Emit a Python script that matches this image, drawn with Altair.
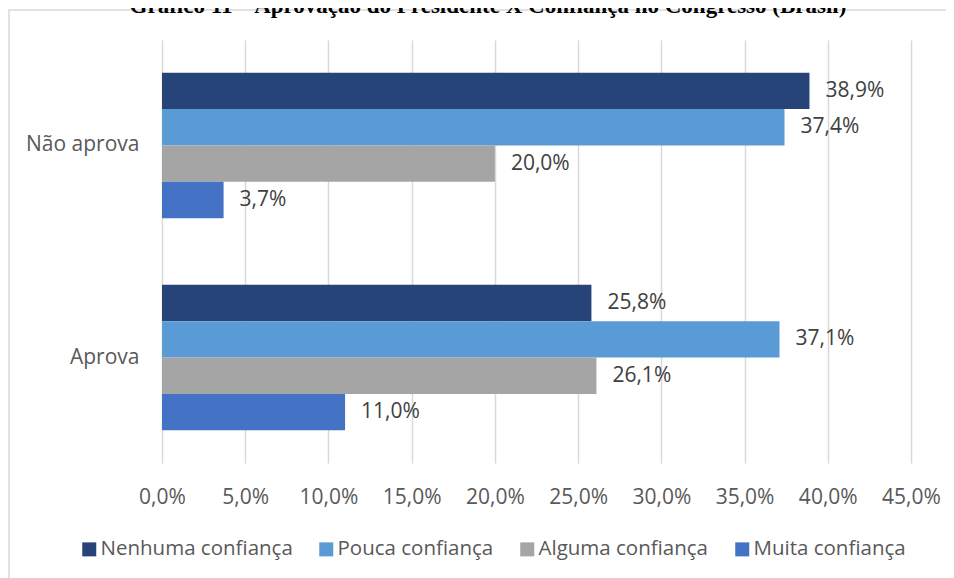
import altair as alt
import pandas as pd

grupos = ["Não aprova", "Aprova"]
series = ["Nenhuma confiança", "Pouca confiança", "Alguma confiança", "Muita confiança"]
nao_aprova = [38.9, 37.4, 20.0, 3.7]
aprova = [25.8, 37.1, 26.1, 11.0]
cores = ["#264478", "#5B9BD5", "#A5A5A5", "#4472C4"]
ticks_x = [0, 5, 10, 15, 20, 25, 30, 35, 40, 45]
titulo = "Gráfico 11 – Aprovação do Presidente X Confiança no Congresso (Brasil)"

rows = []
for g, vals in zip(grupos, [nao_aprova, aprova]):
    for s, v in zip(series, vals):
        rows.append({"grupo": g, "serie": s, "valor": v})
df = pd.DataFrame(rows)

FONT = "Open Sans"
FS = 21

base = alt.Chart(df).encode(
    y=alt.Y(
        "grupo:N",
        sort=grupos,
        scale=alt.Scale(paddingInner=0.314, paddingOuter=0.154),
        axis=alt.Axis(
            title=None, domain=False, ticks=False, labelPadding=23,
            labelFontSize=FS, labelColor="#595959", labelFont=FONT,
            labelFontWeight="normal",
        ),
    ),
    yOffset=alt.YOffset("serie:N", sort=series,
                        scale=alt.Scale(paddingInner=0, paddingOuter=0)),
)

bars = base.mark_bar().encode(
    x=alt.X(
        "valor:Q",
        scale=alt.Scale(domain=[0, 45], nice=False),
        axis=alt.Axis(
            values=ticks_x, title=None, grid=True, gridColor="#d9d9d9",
            gridWidth=1.5, domain=False, ticks=False, labelPadding=23,
            labelFontSize=FS, labelColor="#595959", labelFont=FONT,
            labelOverlap=False, labelFlush=False,
            labelExpr="replace(format(datum.value, '.1f'), '.', ',') + '%'",
        ),
    ),
    color=alt.Color(
        "serie:N",
        sort=series,
        scale=alt.Scale(domain=series, range=cores),
        legend=alt.Legend(
            title=None, orient="none", legendX=-83, legendY=499,
            direction="horizontal", columns=4, symbolType="square",
            symbolSize=196, symbolStrokeWidth=0, symbolOpacity=1,
            labelFontSize=20.5, labelColor="#595959", labelFont=FONT,
            labelLimit=400, columnPadding=23, labelOffset=1,
        ),
    ),
)

labels = base.mark_text(
    align="left", baseline="middle", dx=16, fontSize=FS, font=FONT,
    color="#404040",
).encode(
    x=alt.X("valor:Q"),
    text=alt.Text("rotulo:N"),
).transform_calculate(
    rotulo="replace(format(datum.valor, '.1f'), '.', ',') + '%'"
)

one = pd.DataFrame({"a": [0]})
frame = alt.Chart(one).mark_rect(
    fillOpacity=0, stroke="#d9d9d9", strokeWidth=1.5
).encode(
    x=alt.value(-153), x2=alt.value(830), y=alt.value(-30), y2=alt.value(600)
)

title_text = alt.Chart(one).mark_text(
    text=titulo, font="Liberation Serif", fontWeight="bold", fontSize=23,
    align="center", baseline="alphabetic", color="#000000",
).encode(x=alt.value(326), y=alt.value(-27))

chart = alt.layer(frame, bars, labels, title_text).properties(
    width=749,
    height=423,
    padding={"left": 154, "top": 32, "right": 35, "bottom": 115},
    autosize=alt.AutoSizeParams(type="none"),
).configure_view(stroke="transparent")

chart.save("out.html", embed_options={"renderer": "svg", "actions": False})
